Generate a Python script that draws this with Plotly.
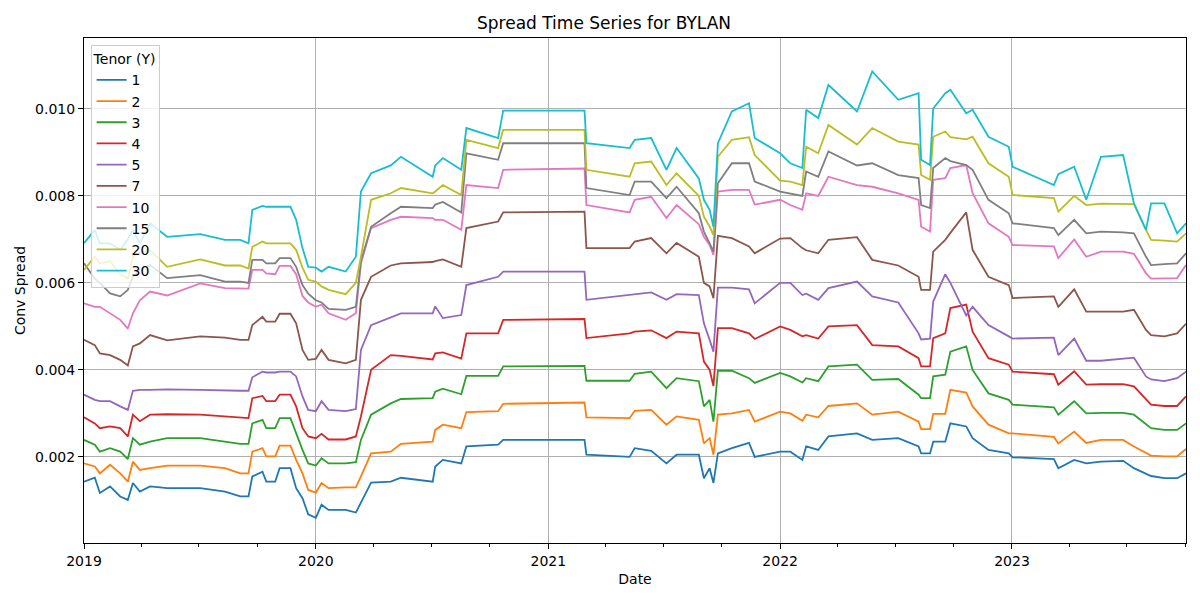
import plotly.graph_objects as go

dates = [
    "2019-01-01", "2019-01-18", "2019-01-26", "2019-02-11", "2019-02-27",
    "2019-03-11", "2019-03-19", "2019-03-30", "2019-04-15", "2019-05-12",
    "2019-07-03", "2019-08-11", "2019-09-04", "2019-09-17", "2019-09-23",
    "2019-10-09", "2019-10-15", "2019-10-29", "2019-11-05", "2019-11-22",
    "2019-12-01", "2019-12-11", "2019-12-20", "2020-01-01", "2020-01-10",
    "2020-01-21", "2020-02-17", "2020-03-04", "2020-03-12", "2020-03-28",
    "2020-04-28", "2020-05-14", "2020-07-03", "2020-07-07", "2020-07-19",
    "2020-08-17", "2020-08-25", "2020-10-14", "2020-10-22", "2021-02-27",
    "2021-03-02", "2021-05-09", "2021-05-17", "2021-06-12", "2021-07-06",
    "2021-07-22", "2021-08-26", "2021-09-03", "2021-09-12", "2021-09-18",
    "2021-09-25", "2021-10-17", "2021-11-13", "2021-11-22", "2022-01-01",
    "2022-01-17", "2022-02-05", "2022-02-11", "2022-03-02", "2022-03-18",
    "2022-05-02", "2022-05-26", "2022-07-06", "2022-08-07", "2022-08-11",
    "2022-08-25", "2022-08-30", "2022-09-18", "2022-09-26", "2022-10-21",
    "2022-10-31", "2022-11-25", "2022-12-27", "2023-01-02", "2023-03-08",
    "2023-03-15", "2023-04-09", "2023-04-28", "2023-05-21", "2023-06-25",
    "2023-07-12", "2023-07-31", "2023-08-08", "2023-08-29", "2023-09-18",
    "2023-10-02",
]

tenor_1 = [
    0.00143, 0.00152, 0.00117, 0.00132, 0.00109, 0.00101, 0.00140, 0.00120, 0.00132, 0.00128,
    0.00128, 0.00120, 0.00109, 0.00109, 0.00155, 0.00166, 0.00143, 0.00143, 0.00174, 0.00174,
    0.00128, 0.00105, 0.00068, 0.00060, 0.00090, 0.00078, 0.00078, 0.00072, 0.00095, 0.00141,
    0.00143, 0.00152, 0.00143, 0.00178, 0.00193, 0.00185, 0.00224, 0.00228, 0.00239, 0.00239,
    0.00205, 0.00200, 0.00220, 0.00214, 0.00185, 0.00205, 0.00205, 0.00151, 0.00174, 0.00140,
    0.00208, 0.00220, 0.00232, 0.00200, 0.00212, 0.00212, 0.00193, 0.00224, 0.00216, 0.00247,
    0.00254, 0.00239, 0.00243, 0.00224, 0.00208, 0.00208, 0.00235, 0.00235, 0.00277, 0.00270,
    0.00243, 0.00216, 0.00208, 0.00199, 0.00195, 0.00174, 0.00193, 0.00185,
    0.00189, 0.00191, 0.00174, 0.00162, 0.00156, 0.00151, 0.00151, 0.00162,
]
tenor_2 = [
    0.00185, 0.00178, 0.00162, 0.00182, 0.00162, 0.00143, 0.00189, 0.00170, 0.00174, 0.00180,
    0.00180, 0.00174, 0.00162, 0.00162, 0.00212, 0.00220, 0.00201, 0.00201, 0.00226, 0.00226,
    0.00193, 0.00162, 0.00124, 0.00118, 0.00140, 0.00128, 0.00130, 0.00130, 0.00155, 0.00208,
    0.00212, 0.00230, 0.00235, 0.00262, 0.00274, 0.00266, 0.00303, 0.00305, 0.00322, 0.00325,
    0.00291, 0.00289, 0.00306, 0.00308, 0.00274, 0.00293, 0.00285, 0.00231, 0.00243, 0.00205,
    0.00297, 0.00300, 0.00308, 0.00281, 0.00304, 0.00300, 0.00283, 0.00297, 0.00291, 0.00317,
    0.00323, 0.00297, 0.00304, 0.00281, 0.00264, 0.00264, 0.00299, 0.00299, 0.00354, 0.00348,
    0.00316, 0.00274, 0.00254, 0.00254, 0.00246, 0.00231, 0.00258, 0.00232,
    0.00239, 0.00239, 0.00224, 0.00208, 0.00203, 0.00201, 0.00201, 0.00218,
]
tenor_3 = [
    0.00239, 0.00228, 0.00212, 0.00220, 0.00212, 0.00195, 0.00243, 0.00228, 0.00235, 0.00243,
    0.00243, 0.00235, 0.00230, 0.00230, 0.00277, 0.00285, 0.00266, 0.00266, 0.00289, 0.00289,
    0.00254, 0.00216, 0.00185, 0.00180, 0.00197, 0.00185, 0.00185, 0.00188, 0.00239, 0.00297,
    0.00323, 0.00333, 0.00335, 0.00350, 0.00357, 0.00344, 0.00386, 0.00386, 0.00408, 0.00409,
    0.00375, 0.00375, 0.00391, 0.00396, 0.00358, 0.00381, 0.00374, 0.00316, 0.00331, 0.00281,
    0.00398, 0.00398, 0.00381, 0.00370, 0.00393, 0.00385, 0.00371, 0.00381, 0.00374, 0.00408,
    0.00412, 0.00377, 0.00379, 0.00343, 0.00335, 0.00335, 0.00385, 0.00389, 0.00442, 0.00454,
    0.00400, 0.00346, 0.00331, 0.00320, 0.00314, 0.00297, 0.00328, 0.00300,
    0.00301, 0.00301, 0.00297, 0.00274, 0.00266, 0.00262, 0.00262, 0.00277,
]
tenor_4 = [
    0.00291, 0.00277, 0.00266, 0.00270, 0.00266, 0.00247, 0.00297, 0.00282, 0.00297, 0.00298,
    0.00297, 0.00293, 0.00289, 0.00289, 0.00335, 0.00340, 0.00328, 0.00328, 0.00343, 0.00343,
    0.00316, 0.00266, 0.00247, 0.00243, 0.00253, 0.00240, 0.00240, 0.00247, 0.00293, 0.00400,
    0.00434, 0.00432, 0.00424, 0.00438, 0.00440, 0.00426, 0.00484, 0.00484, 0.00515, 0.00517,
    0.00473, 0.00484, 0.00488, 0.00491, 0.00473, 0.00488, 0.00484, 0.00419, 0.00400, 0.00363,
    0.00496, 0.00496, 0.00484, 0.00471, 0.00500, 0.00492, 0.00477, 0.00480, 0.00472, 0.00500,
    0.00503, 0.00457, 0.00454, 0.00427, 0.00408, 0.00408, 0.00473, 0.00484, 0.00542, 0.00550,
    0.00488, 0.00427, 0.00412, 0.00396, 0.00390, 0.00366, 0.00397, 0.00366,
    0.00367, 0.00367, 0.00362, 0.00331, 0.00320, 0.00317, 0.00317, 0.00339,
]
tenor_5 = [
    0.00343, 0.00331, 0.00328, 0.00328, 0.00316, 0.00308, 0.00352, 0.00354, 0.00354, 0.00355,
    0.00354, 0.00352, 0.00352, 0.00352, 0.00383, 0.00396, 0.00394, 0.00394, 0.00396, 0.00396,
    0.00385, 0.00339, 0.00308, 0.00305, 0.00328, 0.00308, 0.00305, 0.00310, 0.00446, 0.00503,
    0.00522, 0.00530, 0.00530, 0.00546, 0.00519, 0.00526, 0.00595, 0.00614, 0.00626, 0.00626,
    0.00561, 0.00572, 0.00574, 0.00578, 0.00561, 0.00574, 0.00572, 0.00507, 0.00469, 0.00442,
    0.00589, 0.00589, 0.00585, 0.00553, 0.00600, 0.00600, 0.00572, 0.00575, 0.00561, 0.00588,
    0.00603, 0.00569, 0.00555, 0.00484, 0.00470, 0.00472, 0.00557, 0.00620, 0.00600, 0.00525,
    0.00545, 0.00503, 0.00477, 0.00472, 0.00474, 0.00434, 0.00472, 0.00421,
    0.00421, 0.00426, 0.00428, 0.00385, 0.00378, 0.00374, 0.00381, 0.00396,
]
tenor_7 = [
    0.00469, 0.00457, 0.00438, 0.00434, 0.00423, 0.00410, 0.00454, 0.00461, 0.00480, 0.00468,
    0.00477, 0.00474, 0.00469, 0.00469, 0.00503, 0.00522, 0.00511, 0.00511, 0.00529, 0.00529,
    0.00507, 0.00446, 0.00423, 0.00425, 0.00446, 0.00423, 0.00415, 0.00423, 0.00561, 0.00614,
    0.00640, 0.00645, 0.00648, 0.00650, 0.00654, 0.00637, 0.00726, 0.00741, 0.00762, 0.00764,
    0.00680, 0.00680, 0.00695, 0.00703, 0.00668, 0.00692, 0.00660, 0.00600, 0.00592, 0.00565,
    0.00708, 0.00703, 0.00684, 0.00668, 0.00702, 0.00703, 0.00680, 0.00675, 0.00668, 0.00699,
    0.00705, 0.00653, 0.00640, 0.00614, 0.00584, 0.00584, 0.00672, 0.00699, 0.00715, 0.00762,
    0.00676, 0.00614, 0.00595, 0.00565, 0.00569, 0.00545, 0.00585, 0.00534,
    0.00534, 0.00534, 0.00538, 0.00492, 0.00480, 0.00477, 0.00484, 0.00506,
]
tenor_10 = [
    0.00553, 0.00545, 0.00545, 0.00530, 0.00515, 0.00495, 0.00530, 0.00560, 0.00580, 0.00571,
    0.00599, 0.00588, 0.00588, 0.00587, 0.00630, 0.00630, 0.00622, 0.00620, 0.00639, 0.00639,
    0.00620, 0.00570, 0.00555, 0.00545, 0.00550, 0.00530, 0.00515, 0.00530, 0.00645, 0.00726,
    0.00745, 0.00752, 0.00749, 0.00745, 0.00745, 0.00722, 0.00825, 0.00818, 0.00860, 0.00863,
    0.00779, 0.00762, 0.00791, 0.00798, 0.00749, 0.00779, 0.00735, 0.00706, 0.00687, 0.00664,
    0.00810, 0.00814, 0.00814, 0.00780, 0.00791, 0.00779, 0.00768, 0.00806, 0.00800, 0.00844,
    0.00825, 0.00821, 0.00806, 0.00791, 0.00729, 0.00718, 0.00837, 0.00841, 0.00864, 0.00871,
    0.00806, 0.00737, 0.00706, 0.00687, 0.00684, 0.00657, 0.00700, 0.00660,
    0.00672, 0.00672, 0.00667, 0.00622, 0.00610, 0.00610, 0.00611, 0.00641,
]
tenor_15 = [
    0.00645, 0.00610, 0.00600, 0.00576, 0.00569, 0.00584, 0.00614, 0.00630, 0.00641, 0.00611,
    0.00618, 0.00603, 0.00603, 0.00600, 0.00653, 0.00653, 0.00645, 0.00645, 0.00657, 0.00657,
    0.00637, 0.00595, 0.00575, 0.00560, 0.00555, 0.00540, 0.00538, 0.00545, 0.00650, 0.00729,
    0.00760, 0.00775, 0.00772, 0.00780, 0.00786, 0.00762, 0.00898, 0.00883, 0.00921, 0.00921,
    0.00818, 0.00802, 0.00833, 0.00833, 0.00795, 0.00821, 0.00760, 0.00718, 0.00691, 0.00672,
    0.00829, 0.00875, 0.00875, 0.00833, 0.00810, 0.00806, 0.00800, 0.00856, 0.00844, 0.00902,
    0.00870, 0.00875, 0.00848, 0.00841, 0.00779, 0.00772, 0.00864, 0.00887, 0.00880, 0.00871,
    0.00860, 0.00791, 0.00760, 0.00737, 0.00726, 0.00710, 0.00745, 0.00714,
    0.00718, 0.00716, 0.00714, 0.00660, 0.00641, 0.00643, 0.00645, 0.00668,
]
tenor_20 = [
    0.00630, 0.00660, 0.00645, 0.00650, 0.00620, 0.00610, 0.00660, 0.00670, 0.00675, 0.00637,
    0.00654, 0.00640, 0.00640, 0.00633, 0.00683, 0.00695, 0.00691, 0.00691, 0.00691, 0.00691,
    0.00676, 0.00635, 0.00607, 0.00603, 0.00592, 0.00584, 0.00574, 0.00600, 0.00660, 0.00791,
    0.00806, 0.00818, 0.00806, 0.00810, 0.00825, 0.00802, 0.00929, 0.00910, 0.00952, 0.00952,
    0.00860, 0.00844, 0.00875, 0.00879, 0.00825, 0.00852, 0.00800, 0.00752, 0.00729, 0.00710,
    0.00890, 0.00929, 0.00935, 0.00894, 0.00835, 0.00833, 0.00825, 0.00913, 0.00898, 0.00963,
    0.00918, 0.00956, 0.00925, 0.00918, 0.00848, 0.00837, 0.00936, 0.00948, 0.00935, 0.00930,
    0.00936, 0.00875, 0.00844, 0.00802, 0.00795, 0.00764, 0.00800, 0.00779,
    0.00782, 0.00782, 0.00781, 0.00722, 0.00699, 0.00697, 0.00695, 0.00714,
]
tenor_30 = [
    0.00691, 0.00722, 0.00691, 0.00691, 0.00676, 0.00700, 0.00722, 0.00691, 0.00737, 0.00706,
    0.00712, 0.00699, 0.00699, 0.00691, 0.00768, 0.00777, 0.00775, 0.00775, 0.00775, 0.00775,
    0.00745, 0.00680, 0.00637, 0.00635, 0.00626, 0.00637, 0.00626, 0.00660, 0.00810, 0.00852,
    0.00870, 0.00890, 0.00844, 0.00870, 0.00887, 0.00860, 0.00956, 0.00933, 0.00996, 0.00996,
    0.00921, 0.00910, 0.00929, 0.00933, 0.00860, 0.00910, 0.00840, 0.00791, 0.00768, 0.00729,
    0.00921, 0.00994, 0.01013, 0.00933, 0.00898, 0.00875, 0.00864, 0.00998, 0.00979, 0.01055,
    0.00994, 0.01086, 0.01021, 0.01036, 0.00883, 0.00871, 0.01001, 0.01036, 0.01044, 0.00990,
    0.00998, 0.00936, 0.00913, 0.00867, 0.00825, 0.00850, 0.00867, 0.00791,
    0.00890, 0.00894, 0.00783, 0.00722, 0.00783, 0.00783, 0.00714, 0.00737,
]

tenor_names = ["1", "2", "3", "4", "5", "7", "10", "15", "20", "30"]
tenor_values = [tenor_1, tenor_2, tenor_3, tenor_4, tenor_5,
                tenor_7, tenor_10, tenor_15, tenor_20, tenor_30]
colors = ["#1f77b4", "#ff7f0e", "#2ca02c", "#d62728", "#9467bd",
          "#8c564b", "#e377c2", "#7f7f7f", "#bcbd22", "#17becf"]

fig = go.Figure()
for name, vals, col in zip(tenor_names, tenor_values, colors):
    fig.add_trace(go.Scatter(
        x=dates,
        y=vals,
        name=name,
        mode="lines",
        line=dict(color=col, width=1.8),
    ))

# the page body has an 8px margin, so the figure is sized to fit the window
fig.update_layout(
    width=1192,
    height=592,
    paper_bgcolor="white",
    plot_bgcolor="white",
    font=dict(family="DejaVu Sans", size=14, color="black"),
    title=dict(text="Spread Time Series for BYLAN", x=0.5, xanchor="center",
               y=0.975, yanchor="middle", font=dict(size=17)),
    margin=dict(l=76, r=14, t=30, b=57, autoexpand=False),
    legend=dict(x=0.006, y=0.986, xanchor="left", yanchor="top",
                bgcolor="rgba(255,255,255,0.8)", bordercolor="#cccccc",
                borderwidth=1, title=dict(text="Tenor (Y)", font=dict(size=14)),
                font=dict(size=14), itemwidth=30),
)

fig.update_xaxes(
    type="date",
    range=["2019-01-01", "2023-10-02"],
    tick0="2019-01-01",
    dtick="M12",
    tickformat="%Y",
    tickfont=dict(size=14),
    ticks="outside",
    ticklen=5,
    tickcolor="black",
    showgrid=True,
    gridcolor="#b0b0b0",
    gridwidth=0.8,
    showline=True,
    linecolor="black",
    linewidth=1,
    mirror=True,
    zeroline=False,
    automargin=False,
    title=dict(text="Date", standoff=6, font=dict(size=14)),
    minor=dict(dtick="M3", tick0="2019-01-01", ticks="outside", ticklen=2.5,
               tickcolor="black", showgrid=False),
)
fig.update_yaxes(
    range=[0.00002, 0.01163],
    tick0=0,
    dtick=0.002,
    tickformat=".3f",
    tickfont=dict(size=14),
    ticks="outside",
    ticklen=5,
    tickcolor="black",
    showgrid=True,
    gridcolor="#b0b0b0",
    gridwidth=0.8,
    showline=True,
    linecolor="black",
    linewidth=1,
    mirror=True,
    zeroline=False,
    automargin=False,
    title=dict(text="Conv Spread", standoff=6, font=dict(size=14)),
)

fig.write_html("out.html")
